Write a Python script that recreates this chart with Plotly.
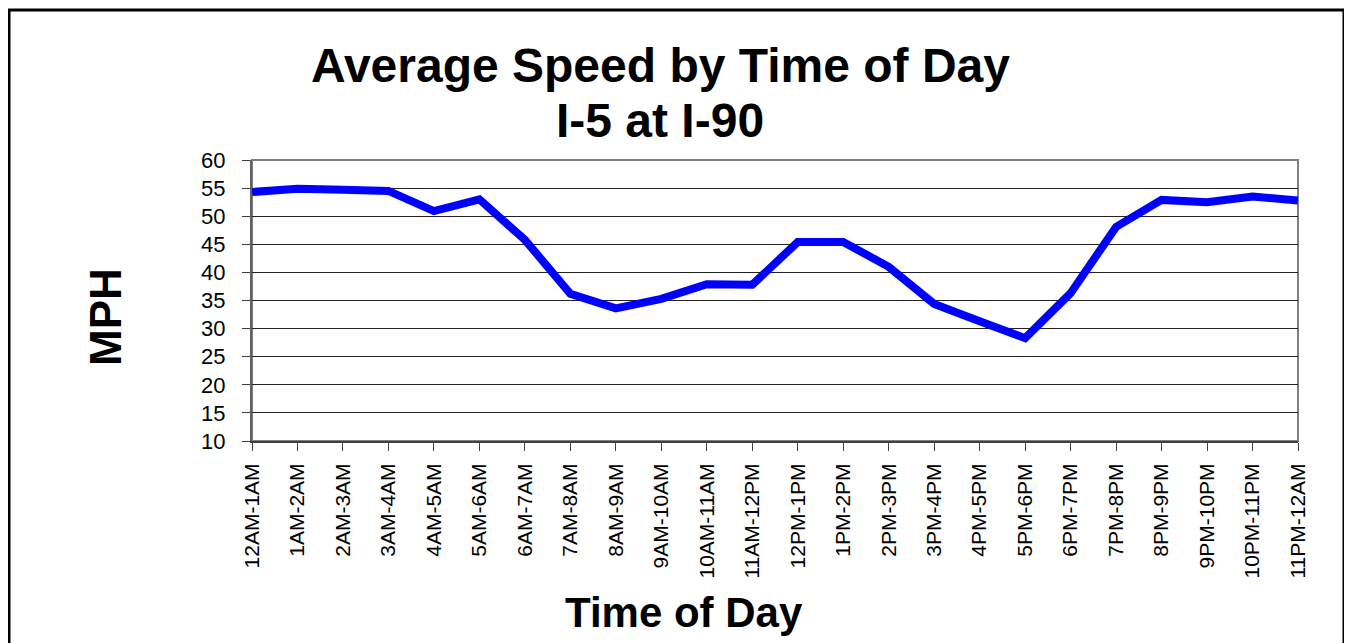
import plotly.graph_objects as go

time_slots = ["12AM-1AM", "1AM-2AM", "2AM-3AM", "3AM-4AM", "4AM-5AM", "5AM-6AM",
              "6AM-7AM", "7AM-8AM", "8AM-9AM", "9AM-10AM", "10AM-11AM", "11AM-12PM",
              "12PM-1PM", "1PM-2PM", "2PM-3PM", "3PM-4PM", "4PM-5PM", "5PM-6PM",
              "6PM-7PM", "7PM-8PM", "8PM-9PM", "9PM-10PM", "10PM-11PM", "11PM-12AM"]
avg_speed = [54.3, 54.9, 54.7, 54.5, 50.9, 53.0,
             45.8, 36.2, 33.6, 35.3, 37.9, 37.8,
             45.4, 45.4, 41.0, 34.4, 31.3, 28.3,
             36.3, 48.1, 52.9, 52.5, 53.5, 52.8]
y_ticks = [10, 15, 20, 25, 30, 35, 40, 45, 50, 55, 60]

FONT = "Liberation Sans, Arial, sans-serif"

# page body has an 8px margin; figure origin is at (8, 8) in the window
OX, OY = 8, 8
L, R, T, B = 252, 1298, 160, 441   # plot area in window pixels
W, H = 1344, 635
PW, PH = R - L, B - T


def px(xw):
    return (xw - L) / PW


def py(yw):
    return (B - yw) / PH


fig = go.Figure()
fig.add_trace(go.Scatter(
    x=time_slots, y=avg_speed, mode="lines",
    line=dict(color="#0000FF", width=8),
    showlegend=False, hoverinfo="skip",
))

fig.update_layout(
    width=W, height=H,
    margin=dict(l=L - OX, r=W - (R - OX), t=T - OY, b=H - (B - OY)),
    paper_bgcolor="white", plot_bgcolor="white",
    font=dict(family=FONT, color="black"),
    showlegend=False,
)

fig.update_xaxes(
    type="category", range=[0, len(time_slots) - 1],
    tickangle=-90, tickfont=dict(size=21, family=FONT, color="black"),
    ticks="outside", ticklen=8, tickcolor="#404040", tickwidth=1,
    ticklabelstandoff=4,
    showline=True, linecolor="#404040", linewidth=2,
    showgrid=False, zeroline=False,
)
fig.update_yaxes(
    range=[10, 60], tickvals=y_ticks,
    tickfont=dict(size=22, family=FONT, color="black"),
    ticks="outside", ticklen=8, tickcolor="#404040", tickwidth=1,
    ticklabelstandoff=12,
    showline=True, linecolor="#606060", linewidth=2,
    showgrid=True, gridcolor="#222222", gridwidth=1,
    zeroline=False,
)

# plot-area border (gray, top/right)
fig.add_shape(type="rect", xref="paper", yref="paper", x0=0, x1=1, y0=0, y1=1,
              line=dict(color="#808080", width=2), layer="below")
# outer chart border
fig.add_shape(type="rect", xref="paper", yref="paper",
              x0=px(9), x1=px(1344), y0=py(660), y1=py(10),
              line=dict(color="black", width=3), layer="below")

fig.add_annotation(text="<b>Average Speed by Time of Day</b>", xref="paper", yref="paper",
                   x=px(660), y=py(65), showarrow=False,
                   xanchor="center", yanchor="middle", font=dict(size=48, family=FONT))
fig.add_annotation(text="<b>I-5 at I-90</b>", xref="paper", yref="paper",
                   x=px(660), y=py(120), showarrow=False,
                   xanchor="center", yanchor="middle", font=dict(size=48, family=FONT))
fig.add_annotation(text="<b>MPH</b>", xref="paper", yref="paper", textangle=-90,
                   x=px(105), y=py(317), showarrow=False,
                   xanchor="center", yanchor="middle", font=dict(size=44, family=FONT))
fig.add_annotation(text="<b>Time of Day</b>", xref="paper", yref="paper",
                   x=px(684), y=py(612), showarrow=False,
                   xanchor="center", yanchor="middle", font=dict(size=42, family=FONT))

fig.write_html("out.html")
